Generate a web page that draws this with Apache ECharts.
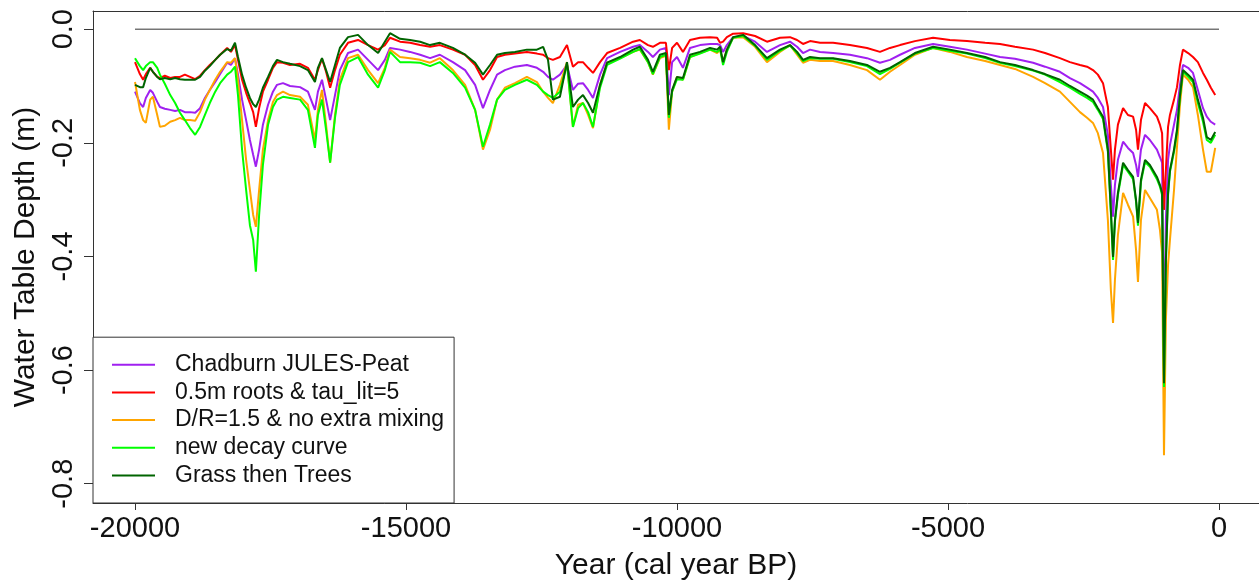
<!DOCTYPE html>
<html>
<head>
<meta charset="utf-8">
<script src="https://cdn.jsdelivr.net/npm/echarts@6/dist/echarts.min.js"></script>
<style>
  html, body { margin: 0; padding: 0; background: #fff; }
  #chart { width: 1259px; height: 582px; }
</style>
</head>
<body>
<div id="chart"></div>
<script>
// years (cal year BP, negative = before present)
const years = [
  -20000, -19910, -19850, -19800, -19720, -19670, -19590, -19540, -19450, -19350,
  -19260, -19170, -19080, -18985, -18890, -18855, -18800, -18710, -18620, -18520,
  -18430, -18300, -18230, -18155, -18100, -18025, -17950, -17880, -17820, -17770,
  -17710, -17640, -17545, -17455, -17380, -17270, -17140, -16955, -16810, -16680,
  -16625, -16550, -16475, -16400, -16310, -16220, -16070, -15885, -15700, -15515,
  -15390, -15295, -15110, -14925, -14740, -14555, -14375, -14135, -13910, -13725,
  -13580, -13450, -13320, -13175, -12990, -12770, -12585, -12470, -12380, -12290,
  -12160, -12030, -11920, -11825, -11735, -11640, -11550, -11420, -11290, -11050,
  -10810, -10685, -10535, -10445, -10315, -10205, -10150, -10090, -10000, -9890,
  -9760, -9575, -9390, -9260, -9205, -9150, -9080, -8965, -8780, -8560,
  -8340, -8100, -7915, -7785, -7675, -7545, -7360, -7120, -6810, -6495,
  -6255, -6070, -5885, -5610, -5275, -4965, -4650, -4315, -4040, -3765,
  -3430, -3210, -2935, -2750, -2565, -2435, -2325, -2235, -2140, -2050,
  -1995, -1955, -1920, -1865, -1770, -1680, -1585, -1530, -1495, -1440,
  -1365, -1275, -1145, -1090, -1050, -1015, -980, -940, -905, -830,
  -775, -720, -665, -570, -480, -390, -295, -225, -150, -70
];

// water table depth (m) per run
const chadburn = [
  -0.110, -0.130, -0.137, -0.121, -0.107, -0.112, -0.128, -0.137, -0.140, -0.142,
  -0.144, -0.142, -0.146, -0.146, -0.147, -0.147, -0.139, -0.121, -0.107, -0.093,
  -0.079, -0.059, -0.063, -0.051, -0.080, -0.124, -0.160, -0.195, -0.221, -0.242,
  -0.212, -0.168, -0.133, -0.110, -0.098, -0.095, -0.100, -0.102, -0.110, -0.142,
  -0.110, -0.089, -0.124, -0.160, -0.116, -0.072, -0.042, -0.036, -0.054, -0.072,
  -0.054, -0.033, -0.036, -0.040, -0.045, -0.051, -0.045, -0.058, -0.072, -0.098,
  -0.139, -0.107, -0.080, -0.072, -0.066, -0.063, -0.068, -0.075, -0.084, -0.089,
  -0.080, -0.063, -0.107, -0.096, -0.095, -0.107, -0.121, -0.080, -0.051, -0.040,
  -0.031, -0.028, -0.040, -0.049, -0.036, -0.033, -0.116, -0.058, -0.049, -0.068,
  -0.033, -0.028, -0.026, -0.026, -0.028, -0.040, -0.028, -0.014, -0.012, -0.022,
  -0.040, -0.028, -0.022, -0.031, -0.042, -0.036, -0.040, -0.042, -0.045, -0.051,
  -0.059, -0.054, -0.045, -0.033, -0.026, -0.031, -0.036, -0.043, -0.049, -0.052,
  -0.059, -0.066, -0.075, -0.086, -0.095, -0.103, -0.110, -0.121, -0.137, -0.186,
  -0.274, -0.330, -0.274, -0.230, -0.198, -0.209, -0.218, -0.239, -0.260, -0.212,
  -0.186, -0.195, -0.212, -0.225, -0.235, -0.547, -0.336, -0.230, -0.204, -0.168,
  -0.142, -0.098, -0.063, -0.068, -0.077, -0.107, -0.139, -0.154, -0.163, -0.168
];

const rootsTau = [
  -0.058, -0.079, -0.089, -0.079, -0.068, -0.075, -0.084, -0.086, -0.082, -0.086,
  -0.084, -0.084, -0.080, -0.084, -0.088, -0.088, -0.082, -0.072, -0.063, -0.054,
  -0.045, -0.033, -0.040, -0.028, -0.054, -0.089, -0.112, -0.130, -0.146, -0.172,
  -0.139, -0.110, -0.089, -0.068, -0.058, -0.059, -0.063, -0.061, -0.068, -0.089,
  -0.072, -0.052, -0.075, -0.103, -0.072, -0.045, -0.024, -0.019, -0.028, -0.036,
  -0.028, -0.015, -0.022, -0.024, -0.028, -0.031, -0.028, -0.036, -0.045, -0.063,
  -0.089, -0.072, -0.049, -0.045, -0.043, -0.040, -0.043, -0.045, -0.051, -0.054,
  -0.049, -0.028, -0.066, -0.058, -0.058, -0.068, -0.077, -0.058, -0.042, -0.033,
  -0.022, -0.019, -0.028, -0.031, -0.024, -0.024, -0.072, -0.033, -0.024, -0.040,
  -0.019, -0.015, -0.014, -0.015, -0.024, -0.022, -0.014, -0.008, -0.007, -0.012,
  -0.022, -0.015, -0.014, -0.019, -0.026, -0.021, -0.024, -0.024, -0.028, -0.033,
  -0.040, -0.033, -0.028, -0.021, -0.015, -0.019, -0.021, -0.024, -0.026, -0.031,
  -0.036, -0.042, -0.051, -0.058, -0.063, -0.066, -0.072, -0.080, -0.095, -0.137,
  -0.212, -0.265, -0.212, -0.168, -0.139, -0.151, -0.154, -0.177, -0.212, -0.160,
  -0.130, -0.139, -0.154, -0.168, -0.183, -0.318, -0.248, -0.172, -0.151, -0.124,
  -0.102, -0.063, -0.036, -0.042, -0.049, -0.058, -0.077, -0.089, -0.103, -0.116
];

const noMixing = [
  -0.093, -0.142, -0.160, -0.165, -0.124, -0.119, -0.151, -0.172, -0.170, -0.163,
  -0.160, -0.156, -0.160, -0.160, -0.161, -0.160, -0.146, -0.124, -0.107, -0.089,
  -0.075, -0.058, -0.059, -0.051, -0.089, -0.160, -0.230, -0.283, -0.327, -0.348,
  -0.283, -0.212, -0.160, -0.128, -0.116, -0.110, -0.116, -0.119, -0.133, -0.195,
  -0.142, -0.107, -0.168, -0.235, -0.151, -0.089, -0.051, -0.045, -0.072, -0.095,
  -0.068, -0.036, -0.049, -0.051, -0.054, -0.059, -0.051, -0.072, -0.098, -0.142,
  -0.212, -0.177, -0.124, -0.103, -0.095, -0.084, -0.093, -0.110, -0.121, -0.130,
  -0.098, -0.058, -0.172, -0.133, -0.130, -0.151, -0.174, -0.098, -0.059, -0.051,
  -0.040, -0.036, -0.058, -0.080, -0.051, -0.047, -0.177, -0.110, -0.084, -0.089,
  -0.049, -0.042, -0.036, -0.042, -0.036, -0.059, -0.036, -0.015, -0.014, -0.031,
  -0.058, -0.040, -0.028, -0.045, -0.059, -0.054, -0.056, -0.056, -0.063, -0.072,
  -0.089, -0.075, -0.063, -0.045, -0.033, -0.040, -0.049, -0.056, -0.063, -0.070,
  -0.084, -0.095, -0.110, -0.128, -0.146, -0.156, -0.165, -0.183, -0.218, -0.336,
  -0.459, -0.517, -0.441, -0.362, -0.288, -0.309, -0.330, -0.389, -0.445, -0.336,
  -0.283, -0.297, -0.318, -0.353, -0.394, -0.750, -0.512, -0.415, -0.371, -0.283,
  -0.207, -0.133, -0.080, -0.089, -0.102, -0.151, -0.212, -0.251, -0.251, -0.209
];

const newDecay = [
  -0.051, -0.065, -0.072, -0.065, -0.058, -0.058, -0.068, -0.080, -0.096, -0.116,
  -0.130, -0.147, -0.160, -0.174, -0.186, -0.183, -0.172, -0.151, -0.130, -0.110,
  -0.095, -0.080, -0.075, -0.066, -0.116, -0.212, -0.283, -0.345, -0.371, -0.427,
  -0.327, -0.239, -0.168, -0.137, -0.124, -0.119, -0.121, -0.124, -0.142, -0.209,
  -0.151, -0.124, -0.177, -0.235, -0.156, -0.098, -0.058, -0.049, -0.080, -0.103,
  -0.072, -0.040, -0.058, -0.058, -0.059, -0.065, -0.058, -0.077, -0.103, -0.142,
  -0.207, -0.168, -0.124, -0.107, -0.098, -0.089, -0.098, -0.110, -0.116, -0.121,
  -0.110, -0.061, -0.172, -0.139, -0.130, -0.146, -0.172, -0.103, -0.063, -0.052,
  -0.040, -0.035, -0.058, -0.079, -0.049, -0.045, -0.156, -0.110, -0.088, -0.089,
  -0.049, -0.043, -0.036, -0.040, -0.035, -0.063, -0.040, -0.015, -0.012, -0.029,
  -0.054, -0.038, -0.029, -0.042, -0.056, -0.051, -0.052, -0.052, -0.058, -0.065,
  -0.079, -0.070, -0.059, -0.043, -0.033, -0.038, -0.043, -0.051, -0.059, -0.065,
  -0.073, -0.080, -0.093, -0.103, -0.114, -0.121, -0.128, -0.142, -0.158, -0.216,
  -0.323, -0.406, -0.339, -0.292, -0.239, -0.251, -0.264, -0.304, -0.346, -0.269,
  -0.234, -0.242, -0.264, -0.277, -0.292, -0.630, -0.410, -0.292, -0.251, -0.216,
  -0.181, -0.119, -0.075, -0.084, -0.093, -0.130, -0.163, -0.195, -0.200, -0.186
];

const grassTrees = [
  -0.098, -0.102, -0.102, -0.086, -0.068, -0.075, -0.084, -0.088, -0.086, -0.088,
  -0.086, -0.088, -0.089, -0.089, -0.089, -0.089, -0.084, -0.073, -0.065, -0.054,
  -0.045, -0.035, -0.038, -0.024, -0.049, -0.080, -0.103, -0.121, -0.132, -0.137,
  -0.124, -0.103, -0.084, -0.065, -0.054, -0.058, -0.061, -0.065, -0.072, -0.093,
  -0.068, -0.051, -0.072, -0.093, -0.063, -0.033, -0.014, -0.010, -0.028, -0.042,
  -0.022, -0.007, -0.017, -0.019, -0.022, -0.028, -0.024, -0.033, -0.045, -0.059,
  -0.080, -0.063, -0.045, -0.042, -0.040, -0.036, -0.036, -0.031, -0.054, -0.124,
  -0.119, -0.058, -0.137, -0.124, -0.116, -0.130, -0.147, -0.098, -0.059, -0.049,
  -0.036, -0.031, -0.054, -0.075, -0.045, -0.042, -0.151, -0.107, -0.084, -0.086,
  -0.045, -0.040, -0.033, -0.036, -0.031, -0.058, -0.036, -0.014, -0.010, -0.028,
  -0.051, -0.036, -0.028, -0.040, -0.054, -0.049, -0.051, -0.051, -0.056, -0.063,
  -0.075, -0.068, -0.058, -0.042, -0.031, -0.036, -0.042, -0.049, -0.058, -0.063,
  -0.072, -0.079, -0.089, -0.100, -0.110, -0.117, -0.124, -0.139, -0.154, -0.212,
  -0.318, -0.401, -0.336, -0.288, -0.235, -0.248, -0.260, -0.301, -0.341, -0.265,
  -0.230, -0.239, -0.260, -0.274, -0.288, -0.623, -0.406, -0.288, -0.248, -0.212,
  -0.177, -0.116, -0.072, -0.080, -0.089, -0.124, -0.156, -0.190, -0.195, -0.181
];

// reference line at the surface
const zeroYears = [-20000, 0];
const zeroDepth = [0, 0];

const xTicks = [-20000, -15000, -10000, -5000, 0];
const yTicks = [0, -0.2, -0.4, -0.6, -0.8];

const runNames = [
  'Chadburn JULES-Peat',
  '0.5m roots & tau_lit=5',
  'D/R=1.5 & no extra mixing',
  'new decay curve',
  'Grass then Trees'
];
const runColors = ['#A020F0', '#FF0000', '#FFA500', '#00FF00', '#006400'];
const runValues = [chadburn, rootsTau, noMixing, newDecay, grassTrees];

const FONT = 'Liberation Sans';
const X_MIN = -20775;
const X_MAX = 738;   // the right edge of the box falls just outside the picture

function pairs(xs, ys) {
  return xs.map((x, i) => [x, ys[i]]);
}

let chart = echarts.init(document.getElementById('chart'));

let series = runNames.map((name, k) => ({
  name: name,
  type: 'line',
  data: pairs(years, runValues[k]),
  showSymbol: false,
  symbol: 'none',
  color: runColors[k],
  lineStyle: { width: 2, color: runColors[k] },
  z: 3 + k
}));

series.unshift({
  name: 'surface',
  type: 'line',
  data: pairs(zeroYears, zeroDepth),
  showSymbol: false,
  symbol: 'none',
  silent: true,
  lineStyle: { width: 1, color: '#333' },
  z: 2
});

let option = {
  animation: false,
  backgroundColor: '#fff',
  grid: {
    left: 93,
    top: 11,
    right: 0,
    bottom: 79,
    containLabel: false,
    outerBoundsMode: 'none'   // keep the box where it is, names may sit near the edge
  },
  legend: {
    data: runNames,
    orient: 'vertical',
    left: 93,
    bottom: 79,
    icon: 'rect',
    itemWidth: 43,
    itemHeight: 2,
    itemGap: 4.7,
    padding: [16, 10, 16, 19],
    borderColor: '#333',
    borderWidth: 1,
    backgroundColor: '#fff',
    textStyle: {
      fontFamily: FONT,
      fontSize: 23,
      lineHeight: 23,
      color: '#111',
      padding: [0, 0, 0, 15]
    }
  },
  xAxis: [{
    type: 'value',
    min: X_MIN,
    max: X_MAX,
    position: 'bottom',
    name: 'Year (cal year BP)',
    nameLocation: 'middle',
    nameGap: 48,
    nameTextStyle: { fontFamily: FONT, fontSize: 30, color: '#111' },
    axisLine: { show: true, onZero: false, lineStyle: { color: '#333', width: 1 } },
    splitLine: { show: false },
    axisTick: {
      show: true,
      length: 7,
      customValues: xTicks,
      lineStyle: { color: '#333' }
    },
    axisLabel: {
      customValues: xTicks,
      margin: 11,
      fontFamily: FONT,
      fontSize: 29,
      color: '#111',
      formatter: v => String(v)
    }
  }, {
    // top edge of the box
    type: 'value',
    min: X_MIN,
    max: X_MAX,
    position: 'top',
    axisLine: { show: true, onZero: false, lineStyle: { color: '#333', width: 1 } },
    axisTick: { show: false },
    axisLabel: { show: false },
    splitLine: { show: false }
  }],
  yAxis: {
    type: 'value',
    min: -0.834,
    max: 0.032,
    name: 'Water Table Depth (m)',
    nameLocation: 'middle',
    nameGap: 44,
    nameTextStyle: { fontFamily: FONT, fontSize: 30, color: '#111' },
    axisLine: { show: true, onZero: false, lineStyle: { color: '#333', width: 1 } },
    splitLine: { show: false },
    axisTick: {
      show: true,
      length: 9,
      customValues: yTicks,
      lineStyle: { color: '#333' }
    },
    axisLabel: {
      customValues: yTicks,
      rotate: 90,
      margin: 15,
      fontFamily: FONT,
      fontSize: 29,
      color: '#111',
      formatter: v => v.toFixed(1)
    }
  },
  series: series
};

chart.setOption(option);
</script>
</body>
</html>
